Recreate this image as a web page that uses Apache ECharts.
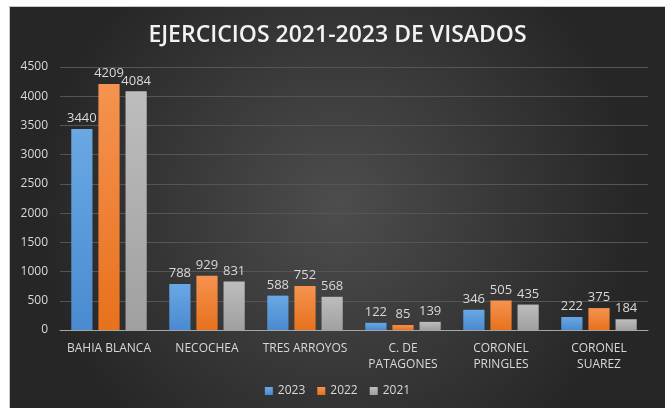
<!DOCTYPE html>
<html>
<head>
<meta charset="utf-8">
<script src="https://cdn.jsdelivr.net/npm/echarts@6/dist/echarts.min.js"></script>
<style>
  html, body { margin: 0; padding: 0; background: #ffffff; }
  #frame { position: absolute; left: 9px; top: 6px; width: 656px; height: 402px; background: #c8c8c8; }
  #main { position: absolute; left: 1px; top: 1px; width: 655px; height: 401px; }
</style>
</head>
<body>
<div id="frame"><div id="main"></div></div>
<script>
var categories = ['BAHIA BLANCA', 'NECOCHEA', 'TRES ARROYOS', 'C. DE\nPATAGONES', 'CORONEL\nPRINGLES', 'CORONEL\nSUAREZ'];
var years = ['2023', '2022', '2021'];
var data2023 = [3440, 788, 588, 122, 346, 222];
var data2022 = [4209, 929, 752, 85, 505, 375];
var data2021 = [4084, 831, 568, 139, 435, 184];
var yTicks = [0, 500, 1000, 1500, 2000, 2500, 3000, 3500, 4000, 4500];

var font = '"Open Sans", "Noto Sans", sans-serif';

function grad(top, bottom) {
  return new echarts.graphic.LinearGradient(0, 0, 0, 1, [
    { offset: 0, color: top },
    { offset: 1, color: bottom }
  ]);
}

function series(name, values, top, bottom) {
  return {
    name: name,
    type: 'bar',
    data: values,
    barGap: '28%',
    barCategoryGap: '23%',
    itemStyle: { color: grad(top, bottom) },
    label: {
      show: true,
      position: 'top',
      distance: 4,
      color: '#d9d9d9',
      fontSize: 13,
      fontFamily: font
    }
  };
}

var myChart = echarts.init(document.getElementById('main'));
myChart.setOption({
  backgroundColor: new echarts.graphic.RadialGradient(0.5, 0.5, 0.75, [
    { offset: 0, color: '#4d4d4d' },
    { offset: 1, color: '#262626' }
  ]),
  textStyle: { fontFamily: font },
  title: {
    text: 'EJERCICIOS 2021-2023 DE VISADOS',
    left: 'center',
    top: 12,
    textStyle: {
      color: '#f2f2f2',
      fontSize: 23,
      fontWeight: 600,
      fontFamily: font
    }
  },
  legend: {
    data: years,
    bottom: 6,
    left: 'center',
    icon: 'rect',
    itemWidth: 8,
    itemHeight: 8,
    itemGap: 12,
    textStyle: { color: '#d9d9d9', fontSize: 12, fontFamily: font }
  },
  grid: { left: 50, right: 17, top: 60, bottom: 78 },
  xAxis: {
    type: 'category',
    data: categories,
    axisLine: { lineStyle: { color: '#a6a6a6', width: 1 } },
    axisTick: { show: false },
    axisLabel: {
      color: '#d9d9d9',
      fontSize: 12,
      fontFamily: font,
      margin: 11,
      lineHeight: 16,
      interval: 0
    }
  },
  yAxis: {
    type: 'value',
    min: yTicks[0],
    max: yTicks[yTicks.length - 1],
    interval: 500,
    axisLine: { show: false },
    axisTick: { show: false },
    axisLabel: {
      color: '#d9d9d9',
      fontSize: 12,
      fontFamily: font,
      margin: 12,
      formatter: function (v) { return String(v); }
    },
    splitLine: { lineStyle: { color: '#555555', width: 1 } }
  },
  series: [
    series(years[0], data2023, '#6aa8e4', '#4a8ad0'),
    series(years[1], data2022, '#f59350', '#e8711d'),
    series(years[2], data2021, '#bdbdbd', '#a0a0a0')
  ]
});
</script>
</body>
</html>
